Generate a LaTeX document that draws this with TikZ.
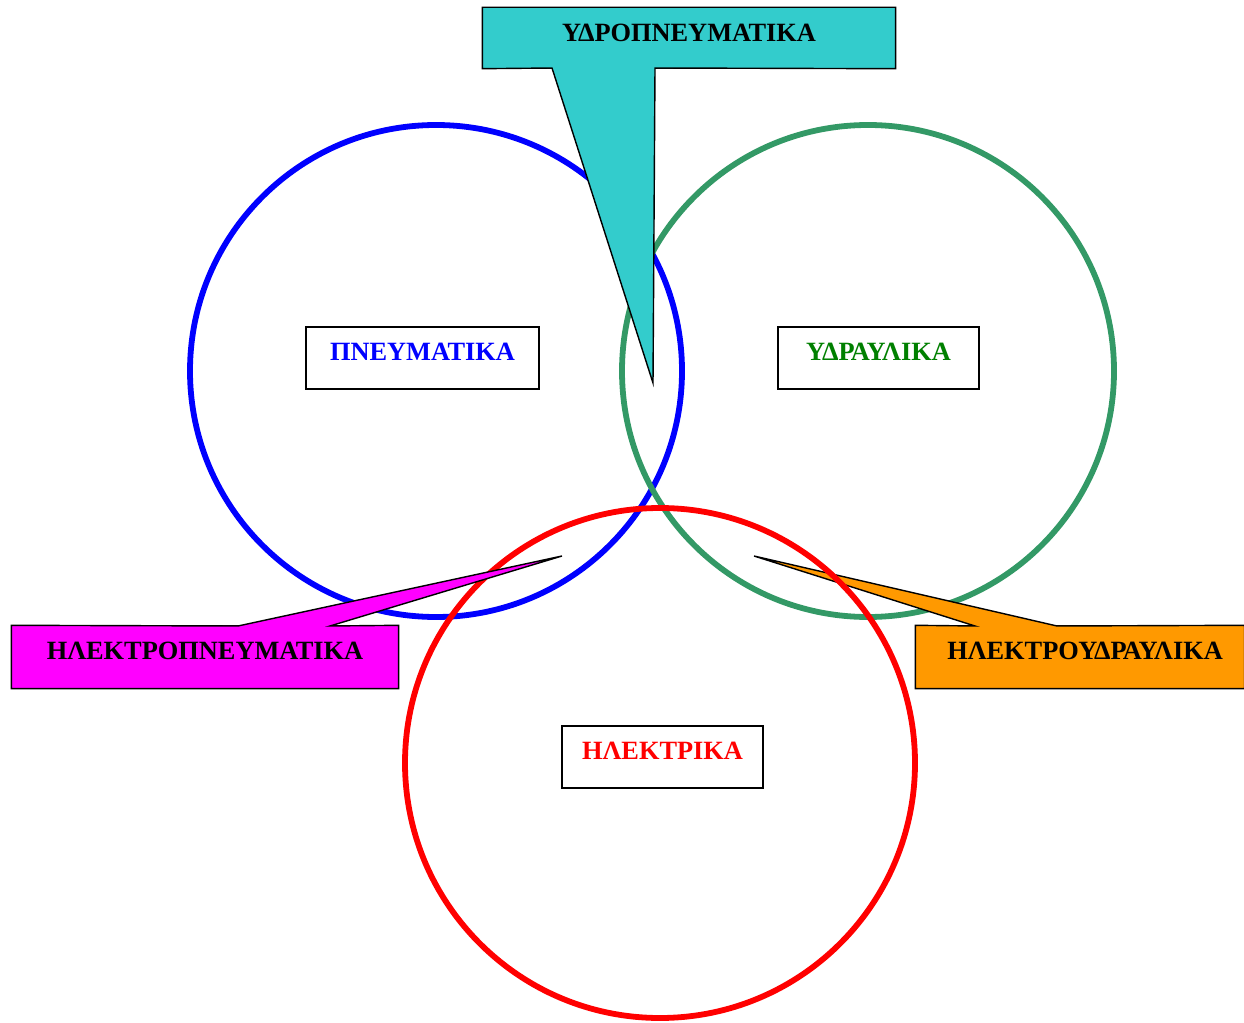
\documentclass[tikz,border=0pt]{standalone}
\usepackage{fontspec}
\setmainfont{Liberation Serif}
\usepackage{tikz}

\definecolor{cyanbox}{RGB}{51,204,204}
\definecolor{orangebox}{RGB}{255,153,0}
\definecolor{magentabox}{RGB}{255,0,255}
\definecolor{greenring}{RGB}{51,153,102}
\definecolor{greentext}{RGB}{0,128,0}

\tikzset{
  ring/.style={line width=3.3pt},
  labelbox/.style={draw, line width=0.8pt, fill=white, inner sep=0pt,
    font=\bfseries\fontsize{15}{18}\selectfont,
    text height=10.5pt, text depth=7.56pt},
  boxtext/.style={inner sep=0pt, font=\bfseries\fontsize{15}{18}\selectfont,
    text height=10.5pt, text depth=7.56pt},
  callout/.style={draw, line width=0.8pt, fill=#1}
}

\begin{document}
\begin{tikzpicture}[x=0.02cm,y=-0.02cm]
\useasboundingbox (0,0) rectangle (1244,1023);
\draw[ring,blue] (436,371) circle [radius=246];
\draw[ring,greenring] (868,371) circle [radius=246];
% orange callout
\coordinate (otip) at (754,556);
\node[labelbox,fill=orangebox,minimum width=6.56cm,minimum height=1.24cm] (ebox) at (1080,657) {};
\draw[callout=orangebox] (ebox.north west) -- (975,626) -- (otip) -- (1057,626) -- (ebox.north east) -- (ebox.south east) -- (ebox.south west) -- cycle;
\node[boxtext] (etext) at (1085,657) {ΗΛΕΚΤΡΟΥΔΡΑΥΛΙΚΑ};
\draw[ring,red] (660,763) circle [radius=255];
% magenta callout
\coordinate (mtip) at (562,556);
\node[labelbox,fill=magentabox,minimum width=7.72cm,minimum height=1.24cm] (pbox) at (205,657) {};
\draw[callout=magentabox] (pbox.north west) -- (238,626) -- (mtip) -- (330,626) -- (pbox.north east) -- (pbox.south east) -- (pbox.south west) -- cycle;
\node[boxtext] (ptext) at (pbox.center) {ΗΛΕΚΤΡΟΠΝΕΥΜΑΤΙΚΑ};
% cyan callout
\coordinate (ctip) at (653,383);
\node[labelbox,fill=cyanbox,minimum width=8.24cm,minimum height=1.2cm] (hbox) at (689,38) {};
\draw[callout=cyanbox] (hbox.north west) -- (hbox.north east) -- (hbox.south east) -- (655,68) -- (ctip) -- (552,68) -- (hbox.south west) -- cycle;
\node[boxtext] (htext) at (689,39) {ΥΔΡΟΠΝΕΥΜΑΤΙΚΑ};
% plain boxes
\node[labelbox,text=blue,minimum width=4.66cm,minimum height=1.24cm] (pneu) at (422.5,358) {ΠΝΕΥΜΑΤΙΚΑ};
\node[labelbox,text=greentext,minimum width=4.02cm,minimum height=1.24cm] (ydr) at (878.5,358) {ΥΔΡΑΥΛΙΚΑ};
\node[labelbox,text=red,minimum width=4.02cm,minimum height=1.24cm] (ilek) at (662.5,757) {ΗΛΕΚΤΡΙΚΑ};
\end{tikzpicture}
\end{document}
